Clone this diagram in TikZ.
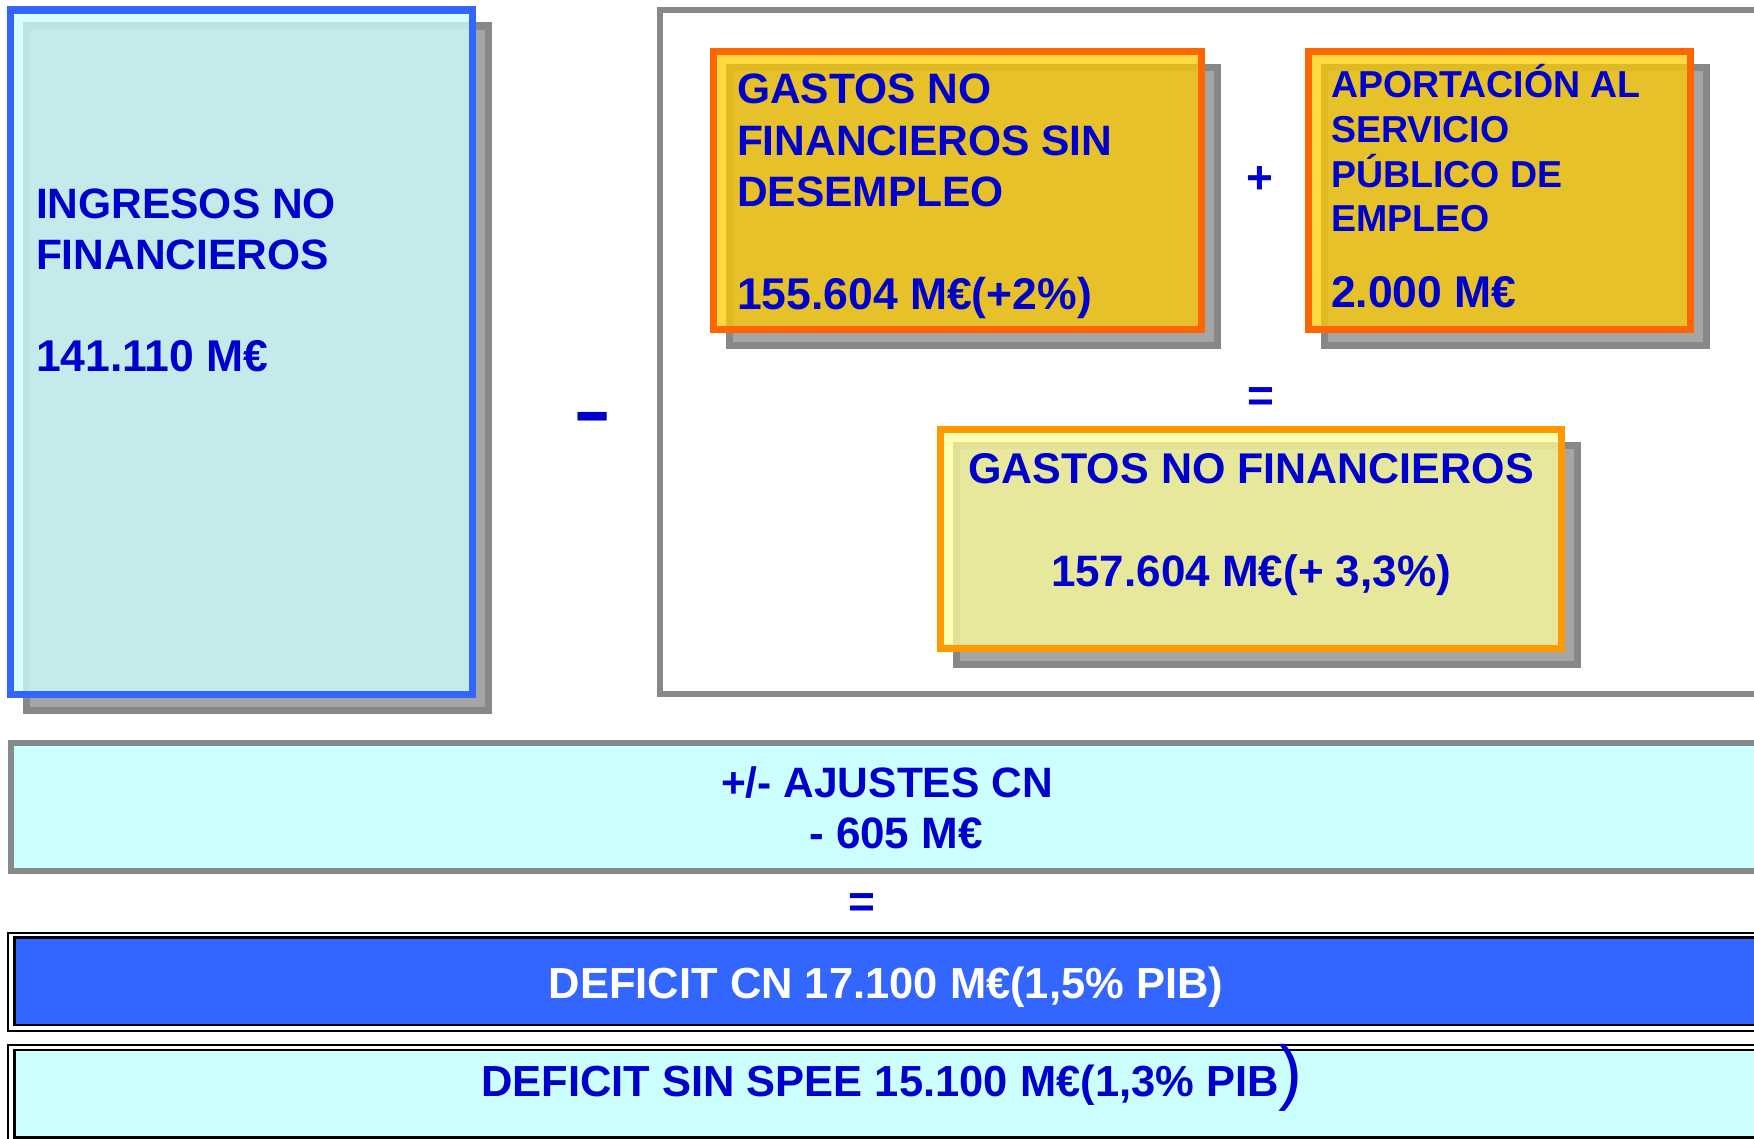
\documentclass[tikz,border=0pt]{standalone}
\usepackage{fontspec}
\setmainfont{Liberation Sans}
\usepackage{graphicx}
\newcommand\myfs[1]{\fontsize{#1pt}{#1pt}\selectfont}
\definecolor{tblue}{HTML}{0000CC}
\definecolor{bblue}{HTML}{3366FF}
\definecolor{cyanf}{HTML}{CCFFFF}
\definecolor{sdark}{HTML}{888888}
\definecolor{slight}{HTML}{A5A5A5}
\definecolor{orangeA}{HTML}{FF6600}
\definecolor{orangeB}{HTML}{FF9900}
\definecolor{goldf}{HTML}{FFCC00}
\definecolor{palef}{HTML}{FFFF99}
\tikzset{
  panel/.style={anchor=north west, inner sep=0pt, outer sep=0pt},
  shadowbox/.style={panel, draw=sdark, fill=slight},
  txt/.style={text=tblue, font=\bfseries\myfs{42.5}, inner sep=0pt, outer sep=0pt},
  lft/.style={txt, anchor=base west},
  ctr/.style={txt, anchor=base},
}
\begin{document}
\begin{tikzpicture}[x=1pt,y=-1pt]
\useasboundingbox (0,0) rectangle (1754,1139);
\clip (0,0) rectangle (1754,1139);
\fill[white] (0,0) rectangle (1754,1139);

% outer grey frame
\node[panel, draw=sdark, line width=6pt, minimum width=1130pt, minimum height=684pt] (frame) at (660,10) {};

% left box: ingresos
\node[shadowbox, line width=7.5pt, minimum width=462pt, minimum height=684.5pt] (ingS) at (26.5,26) {};
\node[panel, draw=bblue, line width=7.5pt, fill=cyanf, fill opacity=0.78, minimum width=462pt, minimum height=684.5pt] (ing) at (10.5,10) {};

% gastos sin desempleo
\node[shadowbox, line width=7pt, minimum width=488pt, minimum height=278.5pt] (gsdS) at (729.5,67.5) {};
\node[panel, draw=orangeA, line width=7pt, fill=goldf, fill opacity=0.74, minimum width=488pt, minimum height=278.5pt] (gsd) at (713.5,51.5) {};

% aportacion
\node[shadowbox, line width=7pt, minimum width=382pt, minimum height=278.5pt] (apS) at (1324.5,67.5) {};
\node[panel, draw=orangeA, line width=7pt, fill=goldf, fill opacity=0.74, minimum width=382pt, minimum height=278.5pt] (ap) at (1308.5,51.5) {};

% gastos no financieros
\node[shadowbox, line width=7pt, minimum width=621pt, minimum height=218.5pt] (gnfS) at (956.5,445.5) {};
\node[panel, draw=orangeB, line width=7pt, fill=palef, fill opacity=0.75, minimum width=621pt, minimum height=218.5pt] (gnf) at (940.5,429.5) {};

% ajustes
\node[panel, draw=sdark, line width=6pt, fill=cyanf, minimum width=1769pt, minimum height=127.5pt] (aj) at (11,743) {};

% deficit CN
\node[panel, draw=black, line width=2pt, fill=white, minimum width=1772pt, minimum height=98.5pt] (dcnO) at (8,932.5) {};
\node[panel, draw=black, line width=2.5pt, fill=bblue, minimum width=1765pt, minimum height=87.5pt] (dcnI) at (14.5,937.5) {};

% deficit sin SPEE
\node[panel, draw=black, line width=2pt, fill=white, minimum width=1772pt, minimum height=100pt] (dsO) at (8,1045) {};
\node[panel, draw=black, line width=2.5pt, fill=cyanf, minimum width=1765pt, minimum height=87.5pt] (dsI) at (14.5,1050) {};

% texts: ingresos
\node[lft] (ing1) at (36,219) {INGRESOS NO};
\node[lft] (ing2) at (36,270) {FINANCIEROS};
\node[lft, font=\bfseries\myfs{44.5}] (ingv) at (36,372) {141.110 M€};

% texts: gastos sin desempleo
\node[lft] (gsd1) at (737,104) {GASTOS NO};
\node[lft] (gsd2) at (737,156) {FINANCIEROS SIN};
\node[lft] (gsd3) at (737,207) {DESEMPLEO};
\node[lft, font=\bfseries\myfs{44.5}] (gsdv) at (737,310) {155.604 M€(+2\%)};

% texts: aportacion
\node[lft, font=\bfseries\myfs{37.5}] (ap1) at (1331,98) {APORTACIÓN AL};
\node[lft, font=\bfseries\myfs{37.5}] (ap2) at (1331,143) {SERVICIO};
\node[lft, font=\bfseries\myfs{37.5}] (ap3) at (1331,188) {PÚBLICO DE};
\node[lft, font=\bfseries\myfs{37.5}] (ap4) at (1331,232) {EMPLEO};
\node[lft, font=\bfseries\myfs{44.5}] (apv) at (1331,308) {2.000 M€};

% operators
\node[txt, font=\bfseries\myfs{46}] (plus) at (1260,180) {+};
\node[txt, font=\bfseries\myfs{46}] (eqA) at (1261,400) {=};
\node[txt, font=\bfseries\myfs{115}] (minus) at (592.5,424) {\scalebox{1}[0.63]{-}};

% texts: gastos no financieros
\node[ctr, font=\bfseries\myfs{43}] (gnf1) at (1251,483) {GASTOS NO FINANCIEROS};
\node[ctr, font=\bfseries\myfs{44}] (gnfv) at (1251,586) {157.604 M€(+ 3,3\%)};

% ajustes
\node[ctr, font=\bfseries\myfs{42.5}] (aj1) at (887,797) {+/- AJUSTES CN};
\node[ctr, font=\bfseries\myfs{44}] (aj2) at (896,848) {- 605 M€};
\node[txt, font=\bfseries\myfs{46}] (eqB) at (862,906) {=};

% deficits
\node[ctr, text=white, font=\bfseries\myfs{43.5}] (dcn) at (886,998) {DEFICIT CN 17.100 M€(1,5\% PIB)};
\node[lft, font=\bfseries\myfs{43.5}] (ds) at (481,1096) {DEFICIT SIN SPEE 15.100 M€(1,3\% PIB};
\node[txt, anchor=base west, font=\mdseries\myfs{72}] (dsp) at (ds.base east) {)};
\end{tikzpicture}
\end{document}
